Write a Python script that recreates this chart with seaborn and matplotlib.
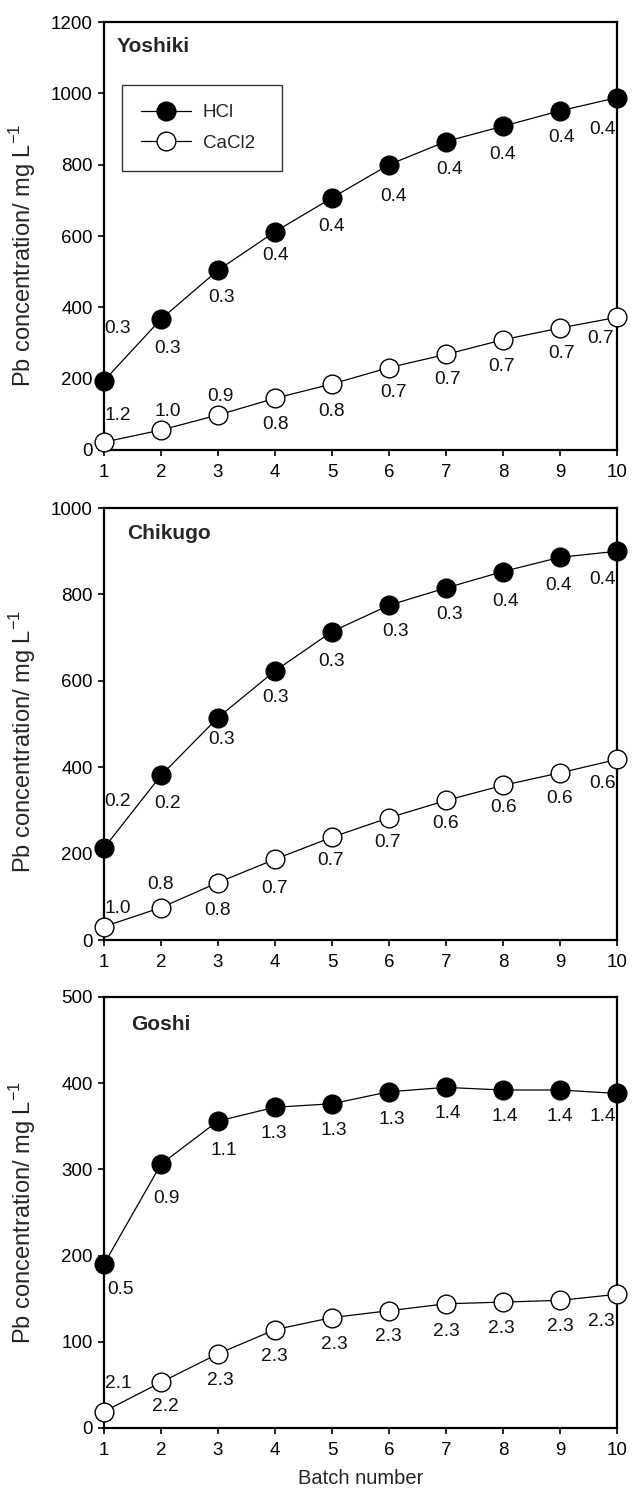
import matplotlib
matplotlib.use("Agg")
import matplotlib.pyplot as plt
import seaborn as sns
import pandas as pd

sns.set_theme(style="ticks")
plt.rcParams['font.family'] = ['Liberation Sans', 'DejaVu Sans']
plt.rcParams['mathtext.fontset'] = 'custom'
plt.rcParams['mathtext.rm'] = 'Liberation Sans'

# ---------------- data ----------------
batch = [1, 2, 3, 4, 5, 6, 7, 8, 9, 10]

sites = ["Yoshiki", "Chikugo", "Goshi"]

yoshiki_hcl = [194, 367, 504, 612, 707, 800, 865, 908, 951, 988]
yoshiki_cacl2 = [22, 56, 98, 145, 185, 231, 268, 309, 342, 372]
yoshiki_hcl_lab = ["0.3", "0.3", "0.3", "0.4", "0.4", "0.4", "0.4", "0.4", "0.4", "0.4"]
yoshiki_cacl2_lab = ["1.2", "1.0", "0.9", "0.8", "0.8", "0.7", "0.7", "0.7", "0.7", "0.7"]

chikugo_hcl = [213, 381, 515, 623, 714, 775, 815, 853, 886, 900]
chikugo_cacl2 = [31, 75, 133, 187, 238, 283, 323, 358, 387, 418]
chikugo_hcl_lab = ["0.2", "0.2", "0.3", "0.3", "0.3", "0.3", "0.3", "0.4", "0.4", "0.4"]
chikugo_cacl2_lab = ["1.0", "0.8", "0.8", "0.7", "0.7", "0.7", "0.6", "0.6", "0.6", "0.6"]

goshi_hcl = [190, 306, 356, 372, 376, 390, 395, 392, 392, 388]
goshi_cacl2 = [19, 53, 86, 114, 128, 136, 144, 146, 148, 155]
goshi_hcl_lab = ["0.5", "0.9", "1.1", "1.3", "1.3", "1.3", "1.4", "1.4", "1.4", "1.4"]
goshi_cacl2_lab = ["2.1", "2.2", "2.3", "2.3", "2.3", "2.3", "2.3", "2.3", "2.3", "2.3"]

y_max = [1200, 1000, 500]
y_step = [200, 200, 100]

# ---------------- label offsets (pixels, +dy = downward) ----------------
off_yoshiki_hcl = [(14, -52), (7, 29), (4, 27), (1, 24), (0, 29), (5, 32), (4, 28), (0, 28), (2, 27), (-14, 32)]
off_yoshiki_cacl2 = [(14, -27), (7, -19), (2, -19), (1, 26), (0, 27), (5, 25), (2, 25), (-1, 27), (2, 25), (-16, 21)]
off_chikugo_hcl = [(14, -46), (7, 28), (4, 22), (1, 27), (0, 30), (7, 26), (4, 27), (3, 30), (-1, 28), (-14, 28)]
off_chikugo_cacl2 = [(14, -18), (0, -23), (0, 28), (0, 29), (-1, 23), (-1, 25), (0, 23), (1, 22), (0, 26), (-14, 24)]
off_goshi_hcl = [(16, 25), (5, 34), (6, 29), (-1, 26), (2, 27), (3, 28), (2, 26), (2, 27), (0, 27), (-14, 23)]
off_goshi_cacl2 = [(14, -28), (4, 24), (2, 27), (-1, 27), (2, 27), (-1, 26), (0, 28), (-2, 26), (0, 26), (-16, 27)]

panels = [
    (yoshiki_hcl, yoshiki_cacl2, yoshiki_hcl_lab, yoshiki_cacl2_lab, off_yoshiki_hcl, off_yoshiki_cacl2),
    (chikugo_hcl, chikugo_cacl2, chikugo_hcl_lab, chikugo_cacl2_lab, off_chikugo_hcl, off_chikugo_cacl2),
    (goshi_hcl, goshi_cacl2, goshi_hcl_lab, goshi_cacl2_lab, off_goshi_hcl, off_goshi_cacl2),
]

fig = plt.figure(figsize=(6.33, 14.89), dpi=100)
left, width = 0.1643, 0.8104
rects = [(left, 0.6978, width, 0.2874),
         (left, 0.3687, width, 0.2901),
         (left, 0.0410, width, 0.2895)]
title_x = [0.025, 0.045, 0.053]
title_y = [0.942, 0.942, 0.935]
ylab_y = [0.455, 0.46, 0.5]

FS = 13.8
MS = 13.5

for i, (rect, data) in enumerate(zip(rects, panels)):
    hcl, cacl2, hl, cl, ho, co = data
    ax = fig.add_axes(rect)
    df = pd.DataFrame({"Batch": batch + batch,
                       "Pb": hcl + cacl2,
                       "Extractant": ["HCl"] * len(batch) + ["CaCl2"] * len(batch)})
    for name, fc in [("HCl", "black"), ("CaCl2", "white")]:
        sub = df[df["Extractant"] == name]
        sns.lineplot(data=sub, x="Batch", y="Pb", ax=ax, color="black", lw=0.9,
                     marker="o", markersize=MS, markerfacecolor=fc,
                     markeredgecolor="black", markeredgewidth=1.0,
                     label=name, clip_on=False, zorder=3, legend=(i == 0))
    for vals, labs, offs in [(hcl, hl, ho), (cacl2, cl, co)]:
        for x, y, t, (dx, dy) in zip(batch, vals, labs, offs):
            ax.annotate(t, (x, y), xytext=(dx, -dy), textcoords="offset pixels",
                        ha="center", va="center", fontsize=FS, color="#111111",
                        zorder=4, annotation_clip=False)
    ax.set_xlim(1, 10)
    ax.set_ylim(0, y_max[i])
    ax.set_xticks(batch)
    ax.set_yticks(range(0, y_max[i] + 1, y_step[i]))
    ax.tick_params(axis="both", direction="out", length=4, width=1.2,
                   labelsize=13.5, colors="black", pad=4)
    ax.tick_params(axis="x", pad=6)
    for sp in ax.spines.values():
        sp.set_visible(True)
        sp.set_linewidth(1.6)
        sp.set_color("black")
    ax.set_xlabel("")
    ax.set_ylabel(r"Pb concentration/ mg L$^{\mathregular{-1}}$", fontsize=17)
    ax.yaxis.set_label_coords(-0.128, ylab_y[i])
    ax.text(title_x[i], title_y[i], sites[i], transform=ax.transAxes,
            fontsize=15, fontweight="bold", ha="left", va="center")
    if i == 0:
        leg = ax.legend(loc="upper left", bbox_to_anchor=(0.035, 0.5, 0.312, 0.352),
                        mode="expand", borderaxespad=0.0,
                        fontsize=13.5, frameon=True, fancybox=False,
                        edgecolor="black", handlelength=2.7, borderpad=1.0,
                        labelspacing=0.72, handletextpad=0.6, markerscale=1.0)
        leg.get_frame().set_linewidth(1.0)
    if i == 2:
        ax.set_xlabel("Batch number", fontsize=14.5, labelpad=7)

fig.savefig("out.png", dpi=100)
